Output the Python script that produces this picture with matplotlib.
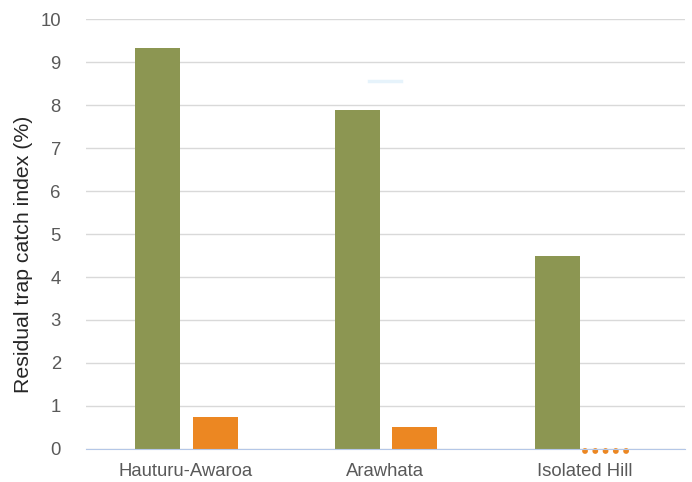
import matplotlib.pyplot as plt
import numpy as np

plt.rcParams["font.family"] = ["Liberation Sans", "DejaVu Sans"]

sites = ["Hauturu-Awaroa", "Arawhata", "Isolated Hill"]
before = [9.33, 7.88, 4.49]
after = [0.74, 0.51, 0.0]
ghost_value = 8.56  # faint mark above Arawhata

green = "#8c9652"
orange = "#ec8722"

fig = plt.figure(figsize=(6.92, 4.82), dpi=100)
ax = fig.add_axes([0.124, 0.0685, 0.866, 0.892])

x = np.arange(len(sites))
w = 0.225
ax.bar(x - 0.14, before, w, color=green, zorder=3)
for xi, v in zip(x, after):
    if v > 0:
        ax.bar(xi + 0.1475, v, w, color=orange, zorder=3)
    else:
        # zero value drawn as dotted outline
        ax.plot([xi + 0.0, xi + 0.215], [v - 0.05, v - 0.05], color=orange, lw=4.2,
                linestyle=(0, (0.01, 1.75)), dash_capstyle="round", zorder=4,
                clip_on=False)

ax.plot([x[1] - 0.08, x[1] + 0.08], [ghost_value, ghost_value], color="#e6f3fb", lw=2.5, zorder=2)

ax.set_xlim(-0.5, 2.5)
ax.set_ylim(0, 10)
ax.set_yticks(range(0, 11))
ax.set_xticks(x)
ax.set_xticklabels(sites)
ax.grid(axis="y", color="#d9d9d9", lw=1, zorder=0)
ax.set_axisbelow(True)
for s in ["top", "right", "left"]:
    ax.spines[s].set_visible(False)
ax.spines["bottom"].set_color("#b4c7e7")
ax.spines["bottom"].set_zorder(5)
ax.tick_params(axis="both", length=0, labelsize=13.3, labelcolor="#595959")
ax.tick_params(axis="y", pad=18)
ax.tick_params(axis="x", pad=10)
ax.set_ylabel("Residual trap catch index (%)", fontsize=15.3, color="#262626")
ax.yaxis.set_label_coords(-0.088, 0.453)

fig.savefig("out.png", dpi=100)
